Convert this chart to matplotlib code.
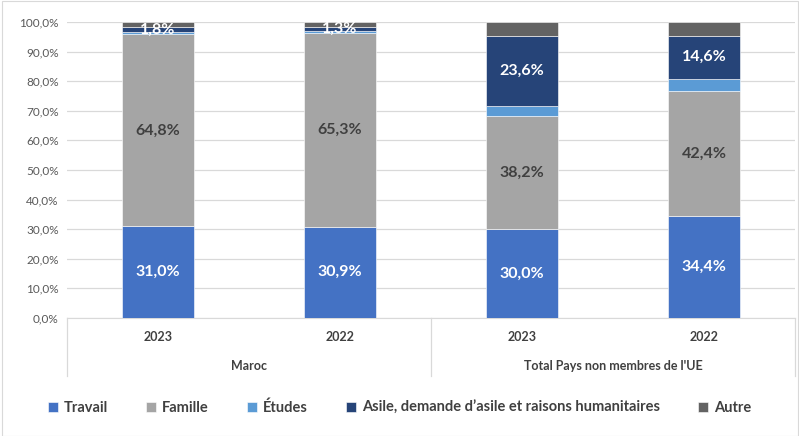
import numpy as np
import matplotlib.pyplot as plt
from matplotlib.patches import Rectangle

plt.rcParams['font.family'] = ['Lato', 'DejaVu Sans']

years = ['2023', '2022', '2023', '2022']
groups = ['Maroc', "Total Pays non membres de l'UE"]
series = ['Travail', 'Famille', 'Études',
          'Asile, demande d\u2019asile et raisons humanitaires', 'Autre']
travail = [31.0, 30.9, 30.0, 34.4]
famille = [64.8, 65.3, 38.2, 42.4]
etudes = [0.8, 0.8, 3.5, 4.0]
asile = [1.8, 1.3, 23.6, 14.6]
autre = [1.6, 1.7, 4.7, 4.6]

colors = ['#4472C4', '#A5A5A5', '#5B9BD5', '#264478', '#636363']
label_colors = ['white', '#404040', None, 'white', None]


def fmt(v):
    return ('%.1f%%' % v).replace('.', ',')


def main():
    fig = plt.figure(figsize=(7.99, 4.36), dpi=100)
    ax = fig.add_axes([67 / 799, 1 - 318 / 436, 728 / 799, 296 / 436])

    x = np.arange(len(years))
    data = [travail, famille, etudes, asile, autre]
    bottom = np.zeros(len(years))
    for vals, name, col, lc in zip(data, series, colors, label_colors):
        vals = np.array(vals)
        ax.bar(x, vals, 0.4, bottom=bottom, color=col, label=name,
               edgecolor='white', linewidth=0.4, zorder=3)
        if lc is not None:
            for xi, b, v in zip(x, bottom, vals):
                ax.text(xi, b + v / 2, fmt(v), ha='center', va='center',
                        color=lc, fontsize=11.5, fontweight='bold', zorder=6)
        bottom += vals

    ax.set_xlim(-0.5, 3.5)
    ax.set_ylim(0, 100)
    ax.set_yticks(np.arange(0, 101, 10))
    ax.set_yticklabels([fmt(v) for v in np.arange(0, 101, 10)],
                       fontsize=8.5, color='#595959')
    ax.tick_params(axis='y', length=0, pad=6)
    ax.set_xticks([])
    ax.grid(axis='y', color='#D9D9D9', linewidth=0.9, zorder=0)
    for s in ['top', 'right', 'left']:
        ax.spines[s].set_visible(False)
    ax.spines['bottom'].set_color('#D9D9D9')

    # two-level category axis
    for xi, yr in zip(x, years):
        ax.text(xi, -0.065, yr, transform=ax.get_xaxis_transform(),
                ha='center', va='center', fontsize=9, fontweight='bold',
                color='#404040')
    for gi, g in enumerate(groups):
        ax.text(0.25 + 0.5 * gi, -0.163, g, transform=ax.transAxes,
                ha='center', va='center', fontsize=9, fontweight='bold',
                color='#404040')
    for xv in [0, 0.5, 1.0]:
        ax.plot([xv, xv], [0, -0.196], transform=ax.transAxes,
                color='#D9D9D9', linewidth=0.9, clip_on=False)

    leg = fig.legend(loc='center', bbox_to_anchor=(0.5, 1 - 408 / 436),
                     ncol=5, frameon=False, handlelength=0.7,
                     handleheight=0.7, handletextpad=0.4, columnspacing=2.6,
                     prop={'size': 10.5, 'weight': 'bold'})
    for t in leg.get_texts():
        t.set_color('#404040')

    fig.patches.append(Rectangle((2 / 799, 0), 796 / 799, 0.998,
                                 transform=fig.transFigure, fill=False,
                                 edgecolor='#D9D9D9', linewidth=0.8))
    fig.savefig('out.png', dpi=100)


if __name__ == '__main__':
    main()
